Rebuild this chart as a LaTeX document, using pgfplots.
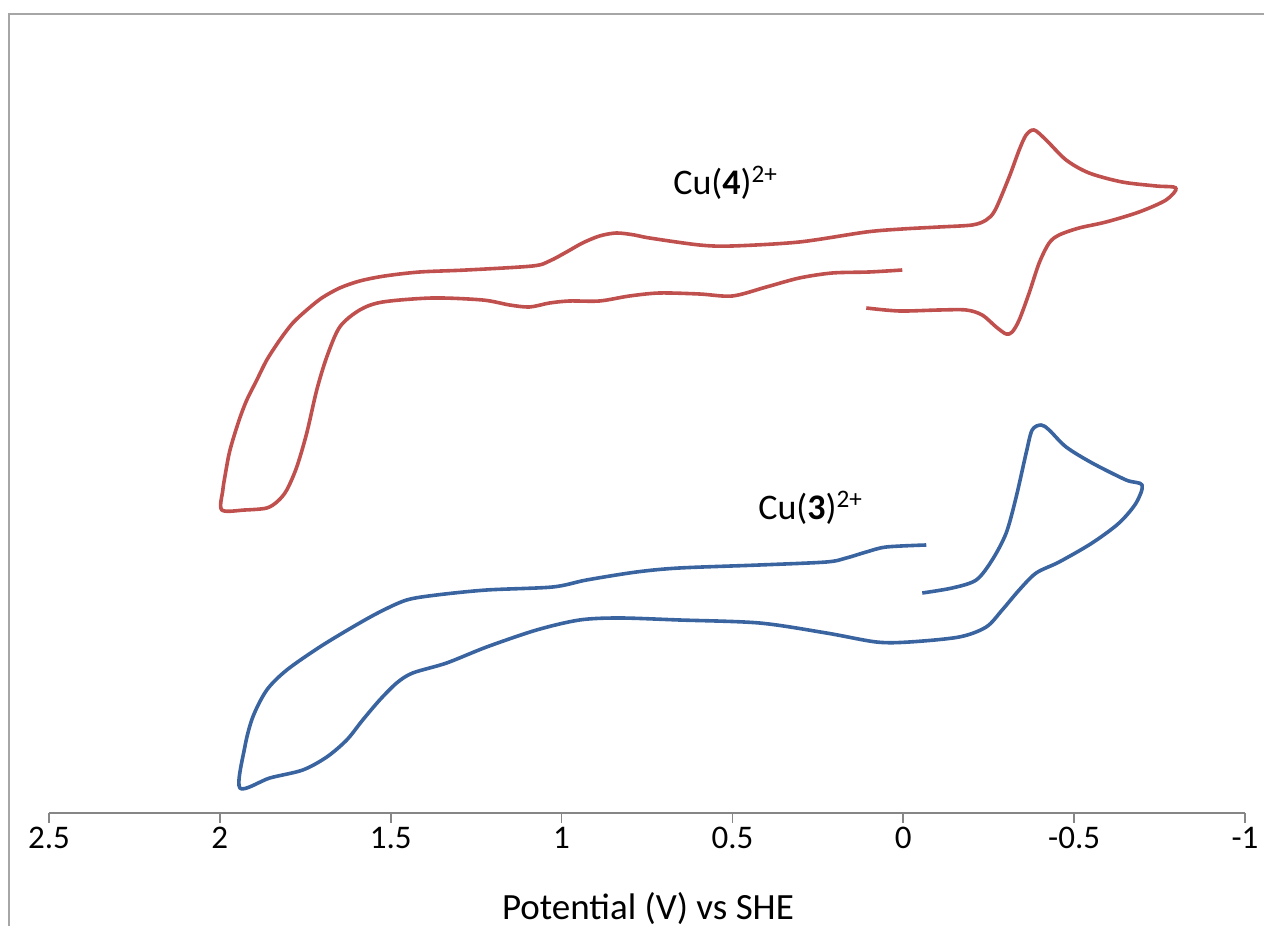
\documentclass[border=0pt]{standalone}
\usepackage{fontspec}
\setmainfont{Carlito}
\usepackage{pgfplots}
\pgfplotsset{compat=1.18}
\definecolor{cvred}{HTML}{C0504D}
\definecolor{cvblue}{HTML}{3A64A0}
\definecolor{framegray}{HTML}{A6A6A6}
\definecolor{axgray}{HTML}{868686}
\begin{document}
\begin{tikzpicture}
\useasboundingbox (0,0) rectangle (632pt,465.5pt);
\draw[framegray, line width=1pt] (4.5pt,2.5pt) -- (4.5pt,458.5pt) -- (640pt,458.5pt);
\begin{axis}[
  at={(24.5pt,59pt)}, anchor=south west,
  scale only axis, width=598pt, height=399.5pt,
  xmin=-1, xmax=2.5, x dir=reverse, ymin=0, ymax=799,
  axis x line*=bottom, axis y line=none,
  xtick={-1,-0.5,0,0.5,1,1.5,2,2.5},
  xticklabels={-1,-0.5,0,0.5,1,1.5,2,2.5},
  xtick align=outside, major tick length=5pt,
  tick style={axgray, line width=0.8pt},
  axis line style={axgray, line width=0.8pt},
  xticklabel style={font=\fontsize{16.5}{19}\selectfont, text=black, yshift=1.5pt},
  clip=false,
]
\addplot[cvred, line width=1.8pt, line join=round, smooth, tension=0.5] coordinates {
(0.0029,543) (0.0994,541) (0.2076,540) (0.3041,535) (0.4006,526) (0.5,517) (0.5965,519) (0.7135,520) (0.8012,517) (0.8889,512) (0.9766,512) (1.0351,510) (1.0936,506) (1.1520,508) (1.2310,513) (1.3772,515) (1.5234,511) (1.5906,503) (1.6491,486) (1.6871,456) (1.7164,423) (1.7456,380) (1.7749,346) (1.8041,323) (1.8300,312) (1.8626,305) (1.9269,303) (1.9942,303) (1.9912,323) (1.9854,336) (1.9737,358) (1.9620,373) (1.9415,395) (1.9211,413) (1.8918,433) (1.8626,453) (1.8246,473) (1.7865,490) (1.7456,503) (1.7018,515) (1.6491,525) (1.5906,532) (1.5175,537) (1.4152,541) (1.2778,543) (1.0848,547) (1.0351,552) (0.9854,561) (0.9386,570) (0.8889,577) (0.8392,580) (0.7865,578) (0.7427,575) (0.5965,568) (0.5,567) (0.3041,571) (0.1082,581) (0.0029,584) (-0.1053,586) (-0.2018,588) (-0.2427,593) (-0.2690,603) (-0.3099,636) (-0.3392,663) (-0.3596,678) (-0.3830,683) (-0.4181,673) (-0.4766,653) (-0.5439,640) (-0.6404,631) (-0.7398,627) (-0.7982,625) (-0.7690,613) (-0.6901,601) (-0.5936,591) (-0.5146,585) (-0.4561,578) (-0.4269,570) (-0.3977,550) (-0.3684,520) (-0.3392,493) (-0.3187,481) (-0.3012,479) (-0.2719,486) (-0.2310,498) (-0.1842,503) (-0.1053,503) (0.0117,502) (0.1082,505)
};
\addplot[cvblue, line width=1.8pt, line join=round, smooth, tension=0.5] coordinates {
(-0.0673,268) (0.0497,266) (0.1082,261) (0.1667,255) (0.2251,251) (0.4211,248) (0.6550,245) (0.7807,241) (0.9269,233) (1.0263,226) (1.2193,223) (1.3655,218) (1.4532,213) (1.5322,201) (1.6111,186) (1.7076,166) (1.8041,143) (1.8626,123) (1.9035,96) (1.9269,66) (1.9415,25) (1.8538,35) (1.7573,43) (1.6871,56) (1.6287,73) (1.5819,93) (1.5322,113) (1.4825,130) (1.4357,140) (1.3363,150) (1.2193,166) (1.0731,183) (0.9474,193) (0.8304,195) (0.6550,193) (0.4211,190) (0.2251,180) (0.0789,171) (-0.0175,171) (-0.1637,176) (-0.2427,186) (-0.2895,203) (-0.3392,223) (-0.3889,240) (-0.4561,251) (-0.5526,270) (-0.6316,290) (-0.6813,310) (-0.6988,328) (-0.6520,333) (-0.5526,350) (-0.4766,366) (-0.4269,383) (-0.4035,388) (-0.3772,383) (-0.3596,360) (-0.3304,316) (-0.3012,280) (-0.2602,253) (-0.2135,233) (-0.1433,225) (-0.0556,220)
};
\end{axis}
\node[anchor=base west, inner sep=0pt, font=\fontsize{18}{21}\selectfont] at (336.5pt,368pt) {Cu(\textbf{4})\textsuperscript{2+}};
\node[anchor=base west, inner sep=0pt, font=\fontsize{18}{21}\selectfont] at (379pt,205.5pt) {Cu(\textbf{3})\textsuperscript{2+}};
\node[anchor=base, inner sep=0pt, font=\fontsize{18.5}{21}\selectfont] at (324pt,5.5pt) {Potential (V) vs SHE};
\end{tikzpicture}
\end{document}
